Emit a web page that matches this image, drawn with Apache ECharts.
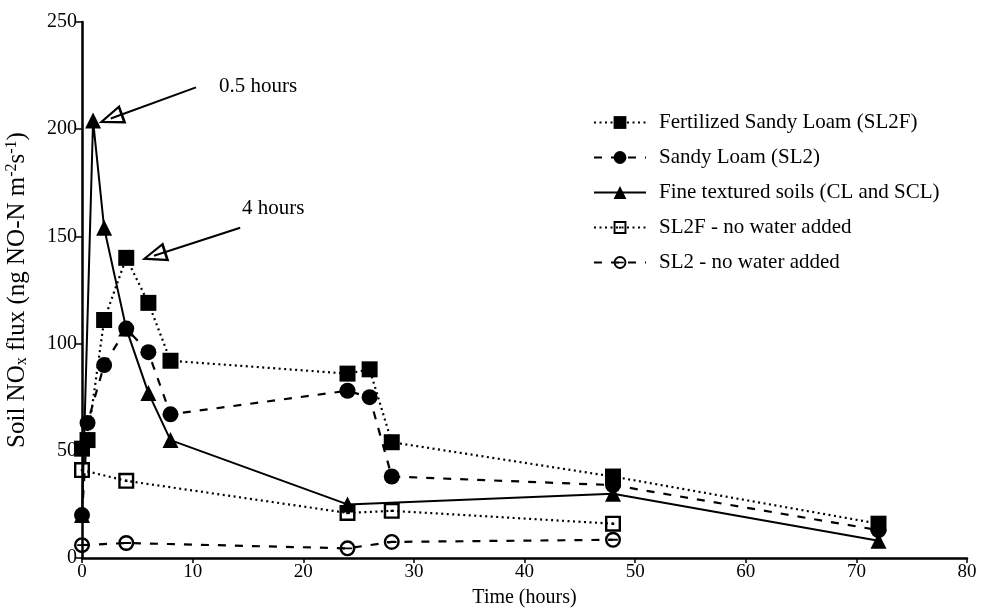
<!DOCTYPE html>
<html><head><meta charset="utf-8">
<script src="https://cdn.jsdelivr.net/npm/echarts@6/dist/echarts.min.js"></script>
<style>html,body{margin:0;padding:0;background:#fff}#c{width:981px;height:613px}</style>
</head><body><div id="c"></div>
<script>
// ---- data (hours, ng NO-N m-2 s-1) ----
const sl2fT = [0, 0.5, 2, 4, 6, 8, 24, 26, 28, 48, 72];
const sl2fV = [51, 55, 111, 140, 119, 92, 86, 88, 54, 38, 16];
const sl2T  = [0, 0.5, 2, 4, 6, 8, 24, 26, 28, 48, 72];
const sl2V  = [20, 63, 90, 107, 96, 67, 78, 75, 38, 34, 13];
const fineT = [0, 1, 2, 4, 6, 8, 24, 48, 72];
const fineV = [20, 204, 154, 107, 77, 55, 25, 30, 8];
const sl2fNwT = [0, 4, 24, 28, 48];
const sl2fNwV = [41, 36, 21, 22, 16];
const sl2NwT  = [0, 4, 24, 28, 48];
const sl2NwV  = [6, 7, 4.5, 7.5, 8.5];
const seriesNames = ['Fertilized Sandy Loam (SL2F)', 'Sandy Loam (SL2)', 'Fine textured soils (CL and SCL)', 'SL2F - no water added', 'SL2 - no water added'];
const xTicks = [0, 80, 10];
const yTicks = [0, 250, 50];
// annotation arrows: [tail, head centre] in data units, labels
const arrow1 = [[10.3, 219.5], [2.6, 205]];
const arrow2 = [[14.3, 154], [6.5, 141]];
const note1 = '0.5 hours';
const note2 = '4 hours';

const pair = (t, v) => t.map((x, i) => [x, v[i]]);
const FONT = '"Liberation Serif", "DejaVu Serif", serif';
const openTri = 'path://M0,0 L10,24 L-10,24 Z M0,5.5 L-6.5,21.5 L6.5,21.5 Z';
const openSq = 'path://M0,0 L20,0 L20,20 L0,20 Z M3,3 L3,17 L17,17 L17,3 Z M8.5,8.5 L11.5,8.5 L11.5,11.5 L8.5,11.5 Z';
const openCirc = 'path://M10,0 A10,10 0 1,1 10,20 A10,10 0 1,1 10,0 Z M10,3 A7,7 0 1,0 10,17 A7,7 0 1,0 10,3 Z M4,8.8 L16,8.8 L16,11.2 L4,11.2 Z';

const chart = echarts.init(document.getElementById('c'), null, {renderer: 'canvas'});
const black = '#000';
const base = (name, data, symbol, size, lineType, width) => ({
  name, type: 'line', data, symbol, symbolSize: size, showSymbol: true,
  itemStyle: {color: black, borderWidth: 0},
  lineStyle: {color: black, width: width, type: lineType},
  animation: false, z: 3
});
const dotted = [2, 3.5];
const dashed = [8, 9];

const series = [
  base(seriesNames[3], pair(sl2fNwT, sl2fNwV), openSq, 16, dotted, 2.2),
  base(seriesNames[4], pair(sl2NwT, sl2NwV), openCirc, 16, dashed, 2.2),
  base(seriesNames[2], pair(fineT, fineV), 'triangle', 16, 'solid', 2),
  base(seriesNames[1], pair(sl2T, sl2V), 'circle', 16, dashed, 2.2),
  base(seriesNames[0], pair(sl2fT, sl2fV), 'rect', 16, dotted, 2.2)
];
series[0].markLine = {
  silent: true, animation: false,
  symbol: ['none', openTri], symbolSize: [20, 26],
  lineStyle: {color: black, width: 2, type: 'solid'},
  itemStyle: {color: black},
  label: {show: false},
  data: [
    [{coord: arrow1[0]}, {coord: arrow1[1]}],
    [{coord: arrow2[0]}, {coord: arrow2[1]}]
  ]
};

chart.setOption({
  backgroundColor: '#fff',
  animation: false,
  grid: {left: 82, right: 14, top: 22, bottom: 55, containLabel: false, outerBoundsMode: 'none'},
  legend: {
    orient: 'vertical', left: 588, top: 107,
    itemWidth: 52, itemHeight: 16, itemGap: 14,
    data: seriesNames,
    textStyle: {fontFamily: FONT, fontSize: 21, color: black, padding: [0, 0, 0, 8]}
  },
  xAxis: {
    type: 'value', min: xTicks[0], max: xTicks[1], interval: xTicks[2],
    name: 'Time (hours)', nameLocation: 'middle', nameGap: 30,
    nameTextStyle: {fontFamily: FONT, fontSize: 20, color: black},
    axisLine: {show: true, onZero: false, lineStyle: {color: black, width: 2.5}},
    axisTick: {show: true, inside: false, length: 5, lineStyle: {color: black, width: 1.5}},
    axisLabel: {fontFamily: FONT, fontSize: 19, color: black, margin: 5},
    splitLine: {show: false}
  },
  yAxis: {
    type: 'value', min: yTicks[0], max: yTicks[1], interval: yTicks[2],
    name: 'Soil NO{sub|x} flux (ng NO-N m{sup|-2}s{sup|-1})', nameLocation: 'middle', nameGap: 52,
    nameTextStyle: {fontFamily: FONT, fontSize: 25, color: black,
      rich: {
        sub: {fontFamily: FONT, fontSize: 16, color: black, verticalAlign: 'bottom', padding: [10, 0, 0, 0]},
        sup: {fontFamily: FONT, fontSize: 16, color: black, verticalAlign: 'top', padding: [0, 0, 10, 0]}
      }},
    axisLine: {show: true, onZero: false, lineStyle: {color: black, width: 2.5}},
    axisTick: {show: true, inside: false, length: 6, lineStyle: {color: black, width: 1.5}},
    axisLabel: {fontFamily: FONT, fontSize: 20, color: black, margin: 5},
    splitLine: {show: false}
  },
  graphic: [
    {type: 'text', left: 219, top: 76, style: {text: note1, font: '21px ' + FONT, fill: black}},
    {type: 'text', left: 242, top: 198, style: {text: note2, font: '21px ' + FONT, fill: black}}
  ],
  series
});
</script></body></html>
